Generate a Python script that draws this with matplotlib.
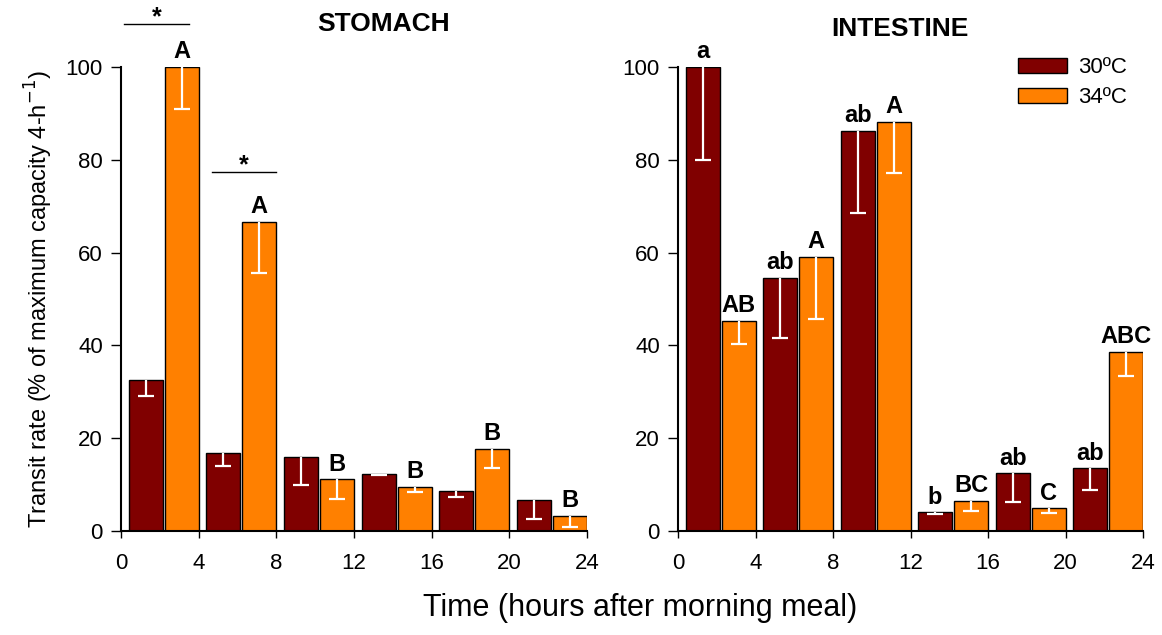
import numpy as np
import matplotlib.pyplot as plt

plt.rcParams['font.family'] = ['Liberation Sans', 'DejaVu Sans']

# 4-h bins, two temperatures per bin
bins = np.arange(0, 24, 4)
labels = ['30ºC', '34ºC']

stomach_30 = [32.6, 16.7, 16.0, 12.3, 8.7, 6.7]
stomach_30_err = [3.4, 2.8, 6.0, 0.2, 1.4, 4.2]
stomach_34 = [100.0, 66.7, 11.1, 9.5, 17.7, 3.2]
stomach_34_err = [9.1, 11.2, 4.2, 1.1, 4.1, 2.3]
stomach_30_letters = ['', '', '', '', '', '']
stomach_34_letters = ['A', 'A', 'B', 'B', 'B', 'B']

intestine_30 = [100.0, 54.5, 86.2, 4.0, 12.4, 13.5]
intestine_30_err = [20.0, 13.0, 17.7, 0.3, 6.2, 4.6]
intestine_34 = [45.3, 59.1, 88.1, 6.5, 4.9, 38.6]
intestine_34_err = [4.9, 13.4, 10.9, 2.3, 1.0, 5.1]
intestine_30_letters = ['a', 'ab', 'ab', 'b', 'ab', 'ab']
intestine_34_letters = ['AB', 'A', 'A', 'BC', 'C', 'ABC']

# significance bars between temperatures (stomach): x-range, height
sig_lines = [(0.17, 3.5, 109.3), (4.7, 8.0, 77.4)]

c30 = '#800000'
c34 = '#FF8000'
width = 1.75
off30 = 1.27
off34 = 3.13

fig = plt.figure(figsize=(11.62, 6.35), dpi=100)
ax1 = fig.add_axes([0.1041, 0.1638, 0.4010, 0.7307])
ax2 = fig.add_axes([0.5835, 0.1638, 0.4002, 0.7307])


def panel(ax, v30, e30, l30, v34, e34, l34):
    x30 = bins + off30
    x34 = bins + off34
    b1 = ax.bar(x30, v30, width, color=c30, edgecolor='black', linewidth=1, label=labels[0])
    b2 = ax.bar(x34, v34, width, color=c34, edgecolor='black', linewidth=1, label=labels[1])
    for x, v, e in [(x30, v30, e30), (x34, v34, e34)]:
        eb = ax.errorbar(x, v, yerr=[e, np.zeros(len(e))], fmt='none', ecolor='white',
                         elinewidth=1.6, capsize=6, capthick=1.6)
        eb[1][1].set_visible(False)
    for x, v, t in zip(x30, v30, l30):
        ax.text(x, v + 0.8, t, ha='center', va='bottom', fontsize=17, fontweight='bold', clip_on=False)
    for x, v, t in zip(x34, v34, l34):
        ax.text(x, v + 0.8, t, ha='center', va='bottom', fontsize=17, fontweight='bold', clip_on=False)
    ax.set_xlim(0, 24)
    ax.set_ylim(0, 100)
    ax.set_xticks(np.arange(0, 25, 4))
    ax.set_yticks(np.arange(0, 101, 20))
    ax.spines['top'].set_visible(False)
    ax.spines['right'].set_visible(False)
    ax.spines['left'].set_linewidth(1.5)
    ax.spines['bottom'].set_linewidth(1.5)
    ax.tick_params(axis='y', length=7, width=1, pad=6, labelsize=16)
    ax.tick_params(axis='x', length=5, width=1, pad=11, labelsize=16)
    return b1, b2


panel(ax1, stomach_30, stomach_30_err, stomach_30_letters,
      stomach_34, stomach_34_err, stomach_34_letters)
b1, b2 = panel(ax2, intestine_30, intestine_30_err, intestine_30_letters,
               intestine_34, intestine_34_err, intestine_34_letters)

for x0, x1, y in sig_lines:
    ax1.plot([x0, x1], [y, y], color='black', linewidth=1, clip_on=False)
    ax1.text((x0 + x1) / 2, y - 0.2, '*', ha='center', va='baseline', fontsize=18,
             fontweight='bold', clip_on=False)

ax1.text(13.5, 109.3, 'STOMACH', ha='center', va='center', fontsize=19, fontweight='bold')
ax2.text(11.45, 108.1, 'INTESTINE', ha='center', va='center', fontsize=19, fontweight='bold')

ax1.set_ylabel('Transit rate (% of maximum capacity 4-h$^{-1}$)', fontsize=17, labelpad=8)
fig.text(0.551, 0.042, 'Time (hours after morning meal)', ha='center', va='center', fontsize=22)

ax2.legend(handles=[b1, b2], loc='upper left', bbox_to_anchor=(0.712, 1.04), frameon=False,
           fontsize=16, handlelength=2.2, handleheight=0.7, labelspacing=0.4,
           handletextpad=0.5, borderaxespad=0)

fig.savefig('out.png', dpi=100)
